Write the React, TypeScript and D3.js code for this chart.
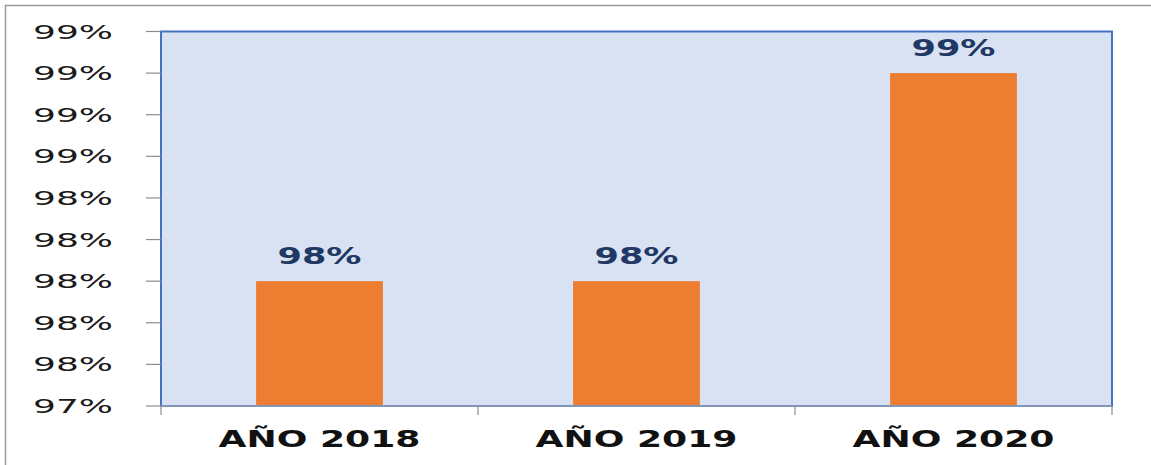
import React from "react";
import * as d3 from "d3";

const categories = ["AÑO 2018", "AÑO 2019", "AÑO 2020"];
const values = [0.98, 0.98, 0.99];
const yTicks = [0.974, 0.976, 0.978, 0.98, 0.982, 0.984, 0.986, 0.988, 0.99, 0.992];

const W = 1151;
const H = 465;
const plot = { left: 161, right: 1112, top: 31.5, bottom: 406 };

export default function App() {
  const x = d3
    .scaleBand<string>()
    .domain(categories)
    .range([plot.left, plot.right])
    .paddingInner(0.6)
    .paddingOuter(0.3);
  const y = d3.scaleLinear().domain([0.974, 0.992]).range([plot.bottom, plot.top]);
  const fmt = d3.format(".0%");
  const step = x.step();
  const boundaries = [plot.left, ...categories.map((c) => (x(c) as number) - step * 0.3 + step)];

  return (
    <svg
      width={W}
      height={H}
      style={{ position: "absolute", left: 0, top: 0, background: "#fff" }}
      fontFamily="'DejaVu Sans', Verdana, sans-serif"
    >
      <rect x={5.5} y={5.5} width={W + 10} height={H + 10} fill="none" stroke="#9a9a9a" strokeWidth={1.5} />
      <rect
        x={plot.left}
        y={plot.top}
        width={plot.right - plot.left}
        height={plot.bottom - plot.top}
        fill="#D9E2F3"
        stroke="#4472C4"
        strokeWidth={2}
      />
      {/* y ticks and labels */}
      {yTicks.map((t, i) => (
        <g key={i}>
          <line x1={146} x2={plot.left} y1={y(t)} y2={y(t)} stroke="#8c8c8c" strokeWidth={1.2} />
          <text
            x={113}
            y={y(t)}
            textAnchor="end"
            dominantBaseline="central"
            fontSize={19}
            fill="#1a1a1a"
            textLength={80}
            lengthAdjust="spacingAndGlyphs"
          >
            {fmt(t)}
          </text>
        </g>
      ))}
      {/* bars */}
      {values.map((v, i) => (
        <rect
          key={i}
          x={x(categories[i])}
          y={y(v)}
          width={x.bandwidth()}
          height={plot.bottom - y(v)}
          fill="#ED7D31"
        />
      ))}
      {/* x axis line */}
      <line x1={plot.left} x2={plot.right} y1={plot.bottom} y2={plot.bottom} stroke="#8496B8" strokeWidth={2} />
      {boundaries.map((b, i) => (
        <line key={i} x1={b} x2={b} y1={plot.bottom} y2={415} stroke="#8c8c8c" strokeWidth={1.2} />
      ))}
      {/* data labels */}
      {values.map((v, i) => (
        <text
          key={i}
          x={(x(categories[i]) as number) + x.bandwidth() / 2}
          y={y(v) - 17.5}
          textAnchor="middle"
          fontSize={22.5}
          fontWeight="bold"
          fill="#1F3864"
          textLength={84}
          lengthAdjust="spacingAndGlyphs"
        >
          {fmt(v)}
        </text>
      ))}
      {/* x labels */}
      {categories.map((c) => (
        <text
          key={c}
          x={(x(c) as number) + x.bandwidth() / 2}
          y={447}
          textAnchor="middle"
          fontSize={23}
          fontWeight="bold"
          fill="#111"
          textLength={202}
          lengthAdjust="spacingAndGlyphs"
        >
          {c}
        </text>
      ))}
    </svg>
  );
}
